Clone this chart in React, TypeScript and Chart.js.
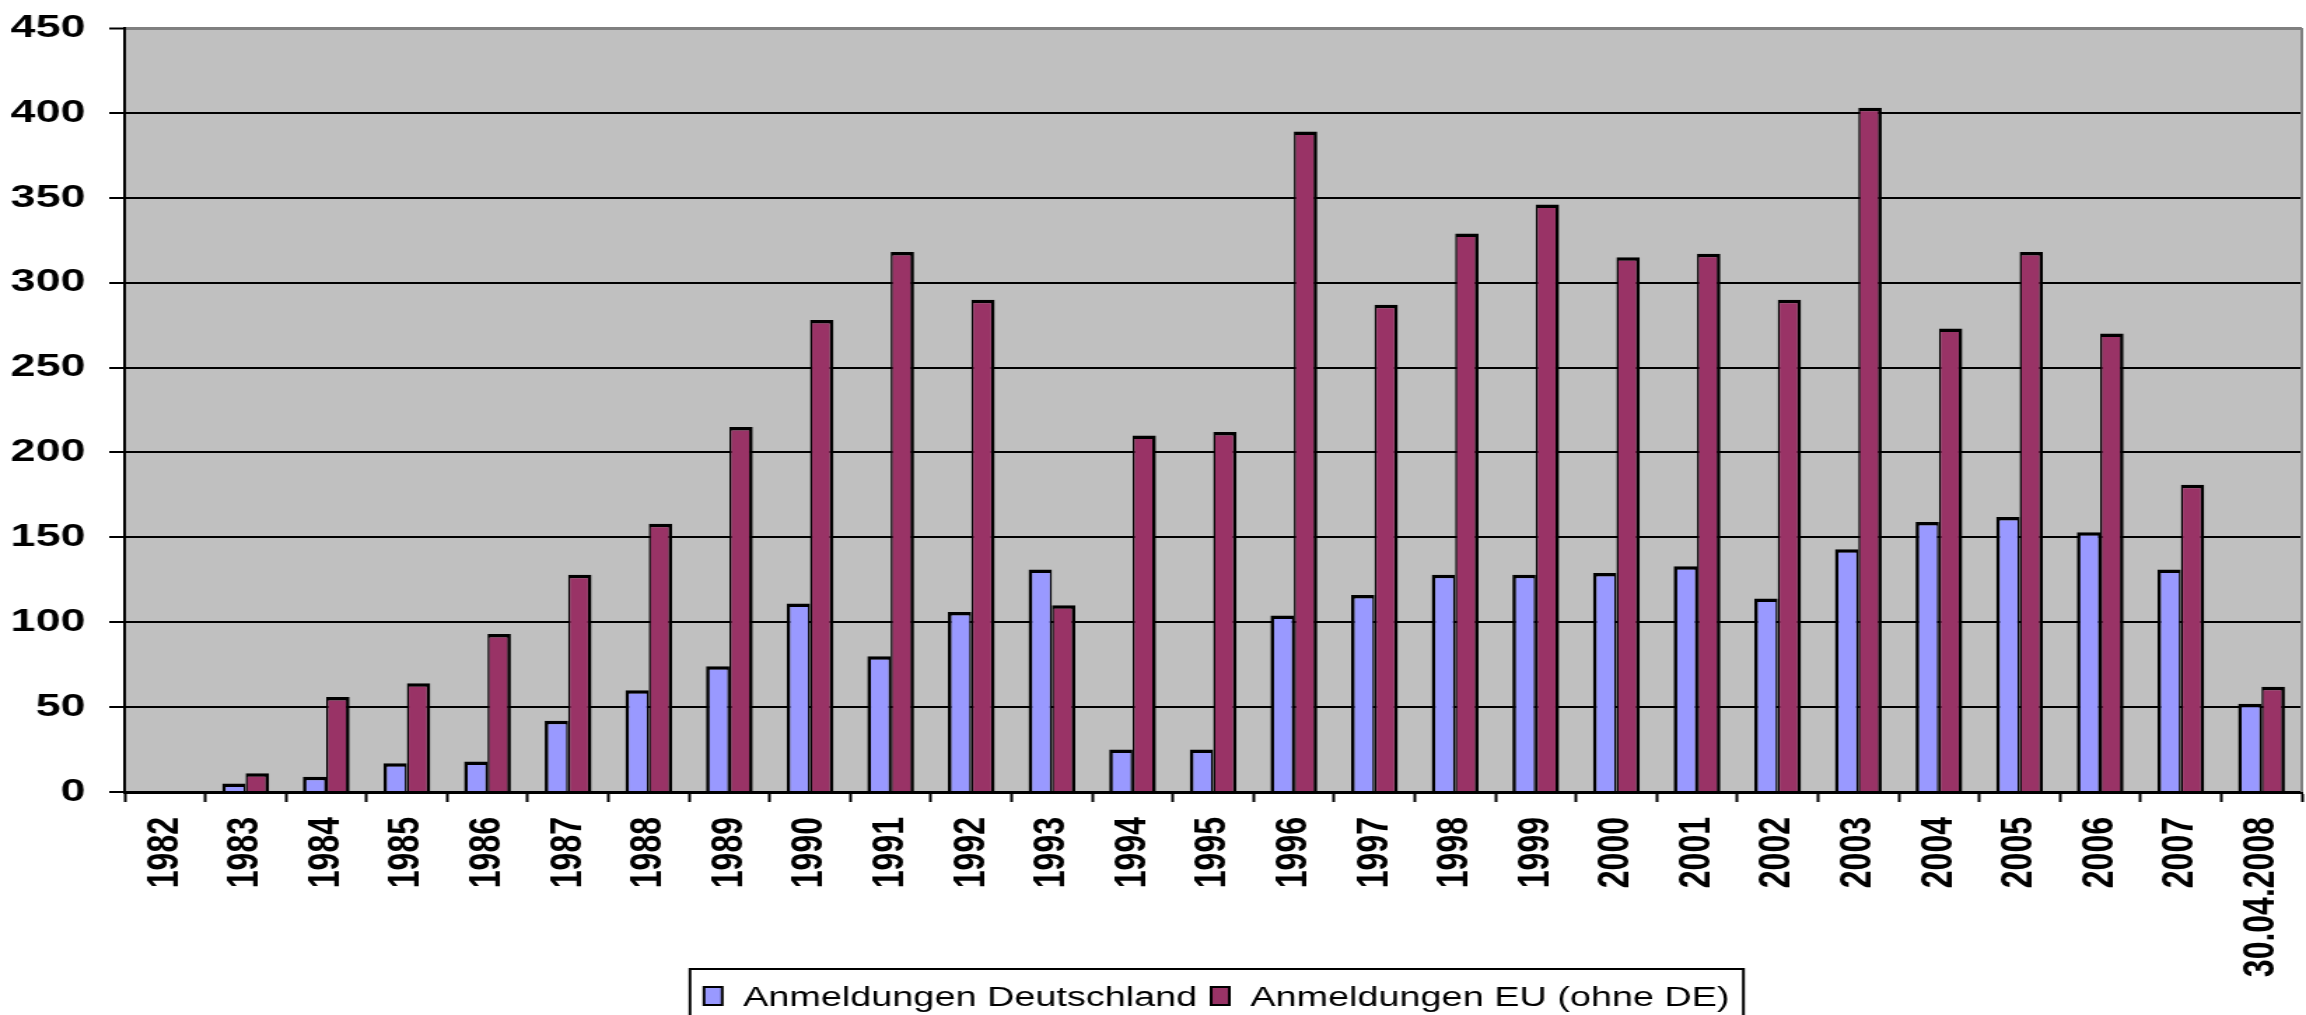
import React, { useEffect, useRef } from 'react';
import { Chart, registerables } from 'chart.js';

Chart.register(...registerables);

// ---- data ----
const categories = [
  '1982', '1983', '1984', '1985', '1986', '1987', '1988', '1989', '1990',
  '1991', '1992', '1993', '1994', '1995', '1996', '1997', '1998', '1999',
  '2000', '2001', '2002', '2003', '2004', '2005', '2006', '2007', '30.04.2008',
];
const anmeldungenDeutschland = [
  0, 5, 9, 17, 18, 42, 60, 74, 111, 80, 106, 131, 25, 25, 104, 116, 128, 128,
  129, 133, 114, 143, 159, 162, 153, 131, 52,
];
const anmeldungenEU = [
  0, 11, 56, 64, 93, 128, 158, 215, 278, 318, 290, 110, 210, 212, 389, 287, 329,
  346, 315, 317, 290, 403, 273, 318, 270, 181, 62,
];
const seriesLabels = ['Anmeldungen Deutschland', 'Anmeldungen EU (ohne DE)'];
const yMin = 0;
const yMax = 450;
const yStep = 50;

// ---- layout ----
const PAGE_W = 2306;
const H = 1015;
const STRETCH = 1.4;
const W = Math.round(PAGE_W / STRETCH);
const FONT = '"Liberation Sans", Arial, Helvetica, sans-serif';

const plotBg = {
  id: 'plotBg',
  beforeDraw(chart: any) {
    const { ctx, chartArea: a } = chart;
    ctx.save();
    ctx.fillStyle = '#C0C0C0';
    ctx.fillRect(a.left, a.top, a.right - a.left, a.bottom - a.top);
    ctx.restore();
  },
  beforeDatasetsDraw(chart: any) {
    const { ctx, chartArea: a } = chart;
    ctx.save();
    ctx.strokeStyle = '#808080';
    ctx.lineWidth = 2;
    ctx.beginPath();
    ctx.moveTo(a.right, a.top);
    ctx.lineTo(a.right, a.bottom);
    ctx.stroke();
    ctx.restore();
  },
};

const boxLegend = {
  id: 'boxLegend',
  afterDraw(chart: any) {
    const ctx = chart.ctx;
    ctx.save();
    ctx.font = `27px ${FONT}`;
    const items = chart.data.datasets.map((ds: any) => ({
      text: ds.label as string,
      color: ds.backgroundColor as string,
    }));
    const pad = 10;
    const marker = 13;
    const gap = 15;
    const between = 10;
    const widths = items.map((i: any) => ctx.measureText(i.text).width);
    let total = pad * 2 + between * (items.length - 1);
    items.forEach((_: any, k: number) => {
      total += marker + gap + widths[k];
    });
    const cx = 869;
    const top = 969;
    let x = cx - total / 2;
    ctx.lineWidth = 2;
    ctx.strokeStyle = '#000';
    ctx.strokeRect(x, top, total, 90);
    x += pad;
    items.forEach((it: any, k: number) => {
      ctx.fillStyle = it.color;
      ctx.fillRect(x, 987, marker, 18);
      ctx.lineWidth = 2;
      ctx.strokeStyle = '#000';
      ctx.strokeRect(x, 987, marker, 18);
      x += marker + gap;
      ctx.fillStyle = '#000';
      ctx.textBaseline = 'alphabetic';
      ctx.textAlign = 'left';
      ctx.fillText(it.text, x, 1006);
      x += widths[k] + between;
    });
    ctx.restore();
  },
};

export default function App() {
  const ref = useRef<HTMLCanvasElement>(null);

  useEffect(() => {
    document.body.style.margin = '0';
    const canvas = ref.current!;
    const chart = new Chart(canvas, {
      type: 'bar',
      data: {
        labels: categories,
        datasets: [
          {
            label: seriesLabels[0],
            data: anmeldungenDeutschland,
            backgroundColor: '#9999FF',
            borderColor: '#000000',
            borderWidth: { top: 3.5, left: 2.6, right: 1.5, bottom: 0 },
            borderSkipped: false,
            categoryPercentage: 0.58,
            barPercentage: 1.0,
          },
          {
            label: seriesLabels[1],
            data: anmeldungenEU,
            backgroundColor: '#993366',
            borderColor: '#000000',
            borderWidth: { top: 3.5, left: 1.5, right: 2.6, bottom: 0 },
            borderSkipped: false,
            categoryPercentage: 0.58,
            barPercentage: 1.0,
          },
        ],
      },
      options: {
        responsive: false,
        animation: false,
        devicePixelRatio: 1,
        layout: { padding: { top: 28, right: 3, left: 0, bottom: 0 } },
        plugins: {
          legend: { display: false },
          tooltip: { enabled: false },
          title: { display: false },
        },
        scales: {
          x: {
            offset: true,
            grid: {
              display: true,
              offset: true,
              drawOnChartArea: false,
              drawTicks: true,
              tickLength: 10,
              tickColor: '#000',
              tickWidth: 2,
            },
            border: { display: true, color: '#000', width: 3 },
            ticks: {
              autoSkip: false,
              minRotation: 90,
              maxRotation: 90,
              padding: 15,
              color: '#000',
              font: { family: FONT, size: 32, weight: 'bold' },
            },
            afterFit(scale: any) {
              scale.height = 223;
              scale.paddingLeft = 0;
              scale.paddingRight = 0;
            },
          },
          y: {
            min: yMin,
            max: yMax,
            ticks: {
              stepSize: yStep,
              padding: 17,
              color: '#000',
              font: { family: FONT, size: 32, weight: 'bold' },
            },
            grid: {
              color: (c: any) => (c.tick && c.tick.value === yMax ? '#808080' : '#000'),
              lineWidth: (c: any) => (c.tick && c.tick.value === yMax ? 3 : 2),
              drawTicks: true,
              tickLength: 11,
              tickColor: '#000',
              tickWidth: 2,
            },
            border: { display: true, color: '#000', width: 2 },
            afterFit(scale: any) {
              scale.width = 89;
              scale.paddingTop = 0;
              scale.paddingBottom = 0;
            },
          },
        },
      },
      plugins: [plotBg, boxLegend],
    } as any);
    return () => chart.destroy();
  }, []);

  return (
    <div
      style={{
        position: 'absolute',
        left: 0,
        top: 0,
        width: W,
        height: H,
        transform: `scaleX(${PAGE_W / W})`,
        transformOrigin: '0 0',
        overflow: 'hidden',
      }}
    >
      <canvas ref={ref} width={W} height={H} style={{ display: 'block' }} />
    </div>
  );
}
